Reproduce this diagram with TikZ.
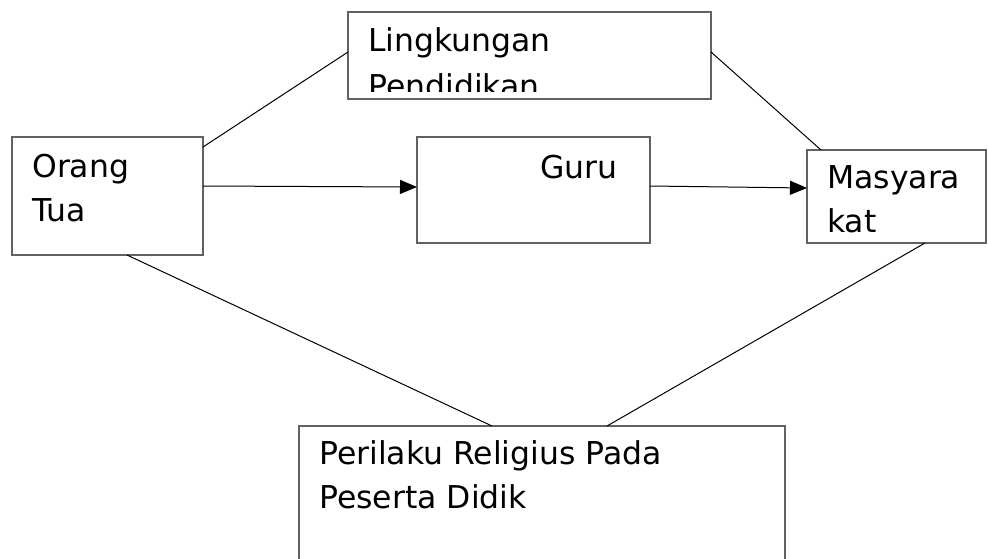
\documentclass[tikz,border=0pt]{standalone}
\usepackage{fontspec}
\setmainfont{DejaVu Sans}
\usetikzlibrary{arrows.meta, positioning}

\begin{document}
\begin{tikzpicture}[
    x=0.75pt, y=-0.75pt,
    box/.style={rectangle, draw=black!62, line width=1.1pt, outer sep=0pt, inner sep=0pt, anchor=north west},
    txt/.style={font=\fontsize{23.6}{33}\selectfont, align=left, inner sep=0pt, anchor=base west},
    link/.style={draw=black, line width=0.75pt},
    arrow/.style={link, -{Triangle[length=12.75pt, width=10.5pt]}}
]
\clip (0,0) rectangle (988,558);
\useasboundingbox (0,0) rectangle (988,558);

% Nodes
\node (lingk) [box, minimum width=272.25pt, minimum height=65.25pt] at (348,12) {};
\node (orang) [box, minimum width=143.25pt, minimum height=88.5pt] at (12,137) {};
\node (guru) [box, minimum width=174.75pt, minimum height=79.5pt] at (417,137) {};
\node (masy) [box, minimum width=134.25pt, minimum height=69.75pt] at (807,150) {};
\node (perilaku) [box, minimum width=364.5pt, minimum height=120pt] at (299,426) {};

% Texts (base anchor sits on the last line)
\begin{scope}
\clip (lingk.north west) rectangle ([yshift=6pt]lingk.south east);
\node (lingktext) [txt, font=\fontsize{23.6}{34.5}\selectfont] at ([xshift=15pt, yshift=-29.5pt-34.5pt]lingk.north west) {Lingkungan\\Pendidikan};
\end{scope}
\node (orangtext) [txt] at ([xshift=15pt, yshift=-30pt-33pt]orang.north west) {Orang\\Tua};
\node (gurutext) [txt] at ([xshift=92.25pt, yshift=-31pt]guru.north west) {Guru};
\node (masytext) [txt] at ([xshift=15pt, yshift=-29pt-33pt]masy.north west) {Masyara\\kat};
\node (perilakutext) [txt] at ([xshift=15pt, yshift=-29pt-33pt]perilaku.north west) {Perilaku Religius Pada\\Peserta Didik};

% Lines
\draw [link] ([yshift=-7.5pt]orang.north east) -- ([yshift=-30pt]lingk.north west);
\draw [link] ([yshift=-30pt]lingk.north east) -- ([xshift=10.5pt]masy.north west);
\draw [link] ([xshift=86.25pt]orang.south west) -- ([xshift=144.75pt]perilaku.north west);
\draw [link] ([xshift=88.5pt]masy.south west) -- ([xshift=231pt]perilaku.north west);

% Arrows
\draw [arrow] ([yshift=-36.75pt]orang.north east) -- ([yshift=-37.5pt]guru.north west);
\draw [arrow] ([yshift=-36.75pt]guru.north east) -- ([yshift=-28.5pt]masy.north west);

\end{tikzpicture}
\end{document}
